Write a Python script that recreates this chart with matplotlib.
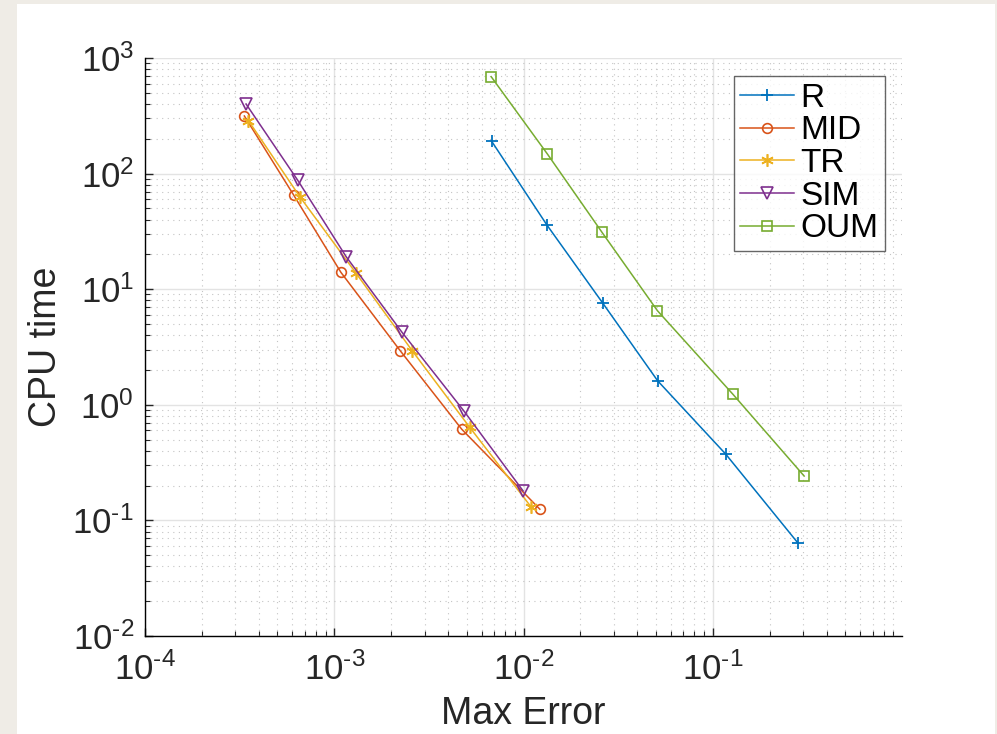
import numpy as np
import matplotlib as mpl
import matplotlib.pyplot as plt
from matplotlib.patches import Rectangle
from matplotlib.ticker import LogLocator, FuncFormatter, NullFormatter

# data (log-log, error vs cpu time)
r_err = [0.00678, 0.0133, 0.0262, 0.0512, 0.117, 0.282]
r_cpu = [191, 35.9, 7.6, 1.61, 0.375, 0.0637]
mid_err = [3.35e-4, 6.10e-4, 1.084e-3, 2.23e-3, 4.72e-3, 0.0122]
mid_cpu = [315, 65.3, 14.0, 2.94, 0.614, 0.125]
tr_err = [3.52e-4, 6.61e-4, 1.306e-3, 2.58e-3, 5.20e-3, 0.0110]
tr_cpu = [287, 62.4, 13.7, 2.94, 0.638, 0.130]
sim_err = [3.42e-4, 6.40e-4, 1.156e-3, 2.28e-3, 4.83e-3, 9.95e-3]
sim_cpu = [400, 88, 19.1, 4.24, 0.889, 0.180]
oum_err = [0.00675, 0.01334, 0.0259, 0.0510, 0.128, 0.304]
oum_cpu = [689, 148.6, 31.3, 6.52, 1.23, 0.242]

plt.rcParams['font.family'] = ['Liberation Sans', 'DejaVu Sans']
plt.rcParams['mathtext.fontset'] = 'custom'
plt.rcParams['mathtext.rm'] = 'Liberation Sans'
plt.rcParams['mathtext.it'] = 'Liberation Sans'

fig = plt.figure(figsize=(9.97, 7.34), dpi=100, facecolor='#efece6')
# white panel on the textured page
fig.patches.append(Rectangle((17 / 997, 0), (995 - 17) / 997, (734 - 4) / 734,
                             transform=fig.transFigure, facecolor='white',
                             edgecolor='none', zorder=-5))

ax = fig.add_axes([145 / 997, (734 - 636) / 734, (902 - 145) / 997, (636 - 58) / 734])
ax.set_zorder(2)
ax.set_facecolor('white')

lw = 1.1
ms = 7
ax.plot(r_err, r_cpu, '-+', color='#0072BD', lw=lw, ms=ms + 2, mew=1.3, label='R')
ax.plot(mid_err, mid_cpu, '-o', color='#D95319', lw=lw, ms=ms, mfc='none', mew=1.2, label='MID')
ax.plot(tr_err, tr_cpu, '-', marker=(6, 2, 0), color='#EDB120', lw=lw, ms=ms + 2, mew=1.2, label='TR')
ax.plot(sim_err, sim_cpu, '-v', color='#7E2F8E', lw=lw, ms=ms + 1, mfc='none', mew=1.2, label='SIM')
ax.plot(oum_err, oum_cpu, '-s', color='#77AC30', lw=lw, ms=ms, mfc='none', mew=1.2, label='OUM')

ax.set_xscale('log')
ax.set_yscale('log')

ax.xaxis.set_major_locator(LogLocator(base=10, numticks=10))
ax.yaxis.set_major_locator(LogLocator(base=10, numticks=10))
ax.xaxis.set_minor_locator(LogLocator(base=10, subs=np.arange(2, 10), numticks=20))
ax.yaxis.set_minor_locator(LogLocator(base=10, subs=np.arange(2, 10), numticks=20))
fmt = FuncFormatter(lambda v, p: r'$\mathregular{10^{\text{%d}}}$' % round(np.log10(v)))
ax.xaxis.set_major_formatter(fmt)
ax.yaxis.set_major_formatter(fmt)
ax.xaxis.set_minor_formatter(NullFormatter())
ax.yaxis.set_minor_formatter(NullFormatter())

ax.grid(True, which='major', color='#e3e3e3', lw=1.0, ls='-')
ax.grid(True, which='minor', color='#c4c4c4', lw=0.8, ls=(0, (1, 4)))
ax.set_axisbelow(True)

ax.spines['top'].set_visible(False)
ax.spines['right'].set_visible(False)
ax.spines['left'].set_linewidth(1.0)
ax.spines['bottom'].set_linewidth(1.0)
ax.tick_params(which='both', direction='in', top=False, right=False, colors='#262626')
ax.tick_params(which='major', length=6, width=1.0, labelsize=25, labelcolor='#262626')
ax.tick_params(which='minor', length=3.5, width=0.8)
ax.tick_params(axis='x', pad=12)
ax.tick_params(axis='y', pad=8)

# the reference shows no label at 10^0 on x
ax.set_xticks([1e-4, 1e-3, 1e-2, 1e-1])
ax.set_xlim(1e-4, 1)
ax.set_ylim(1e-2, 1e3)

ax.set_xlabel('Max Error', fontsize=27, color='#262626', labelpad=6)
ax.set_ylabel('CPU time', fontsize=27, color='#262626', labelpad=6)

leg = ax.legend(loc='upper right', bbox_to_anchor=(0.9775, 0.969), fontsize=24,
                frameon=True, fancybox=False, edgecolor='#404040',
                handlelength=1.6, handletextpad=0.2, borderpad=0.2,
                labelspacing=0.05, borderaxespad=0)
leg.get_frame().set_linewidth(1.0)

fig.savefig('out.png', dpi=100, facecolor=fig.get_facecolor())
